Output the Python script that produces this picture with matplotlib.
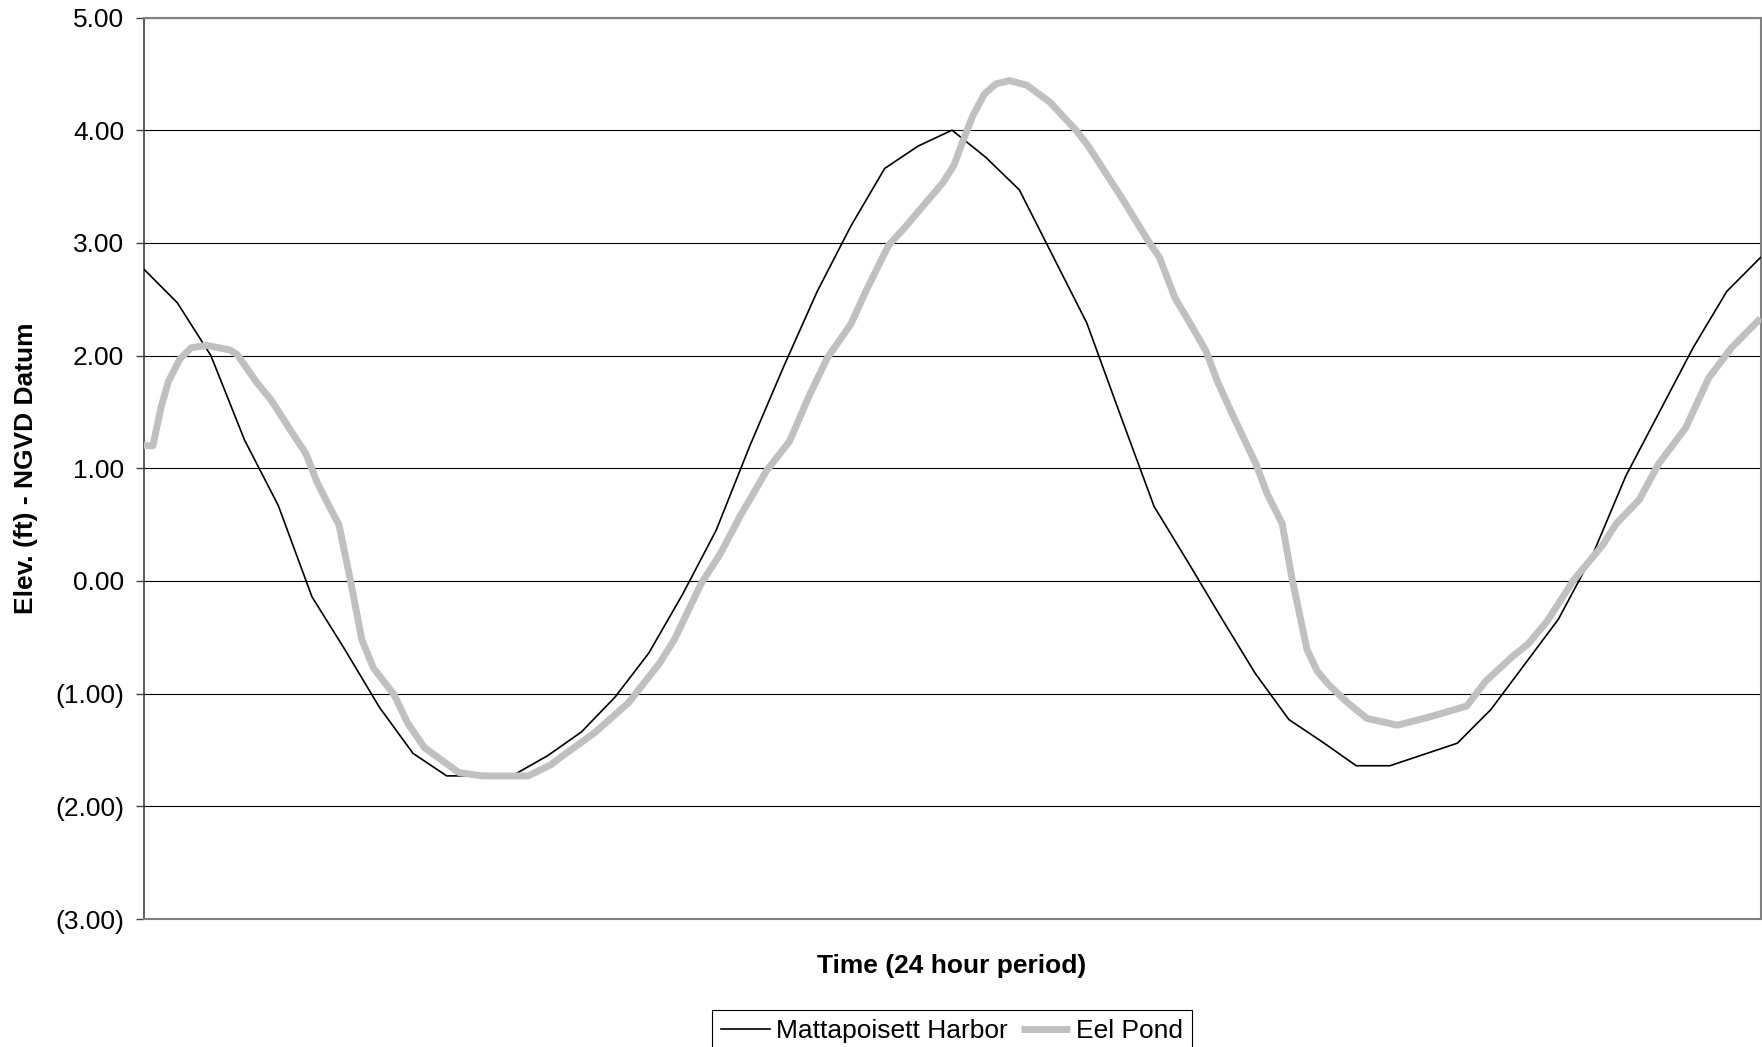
import matplotlib
matplotlib.use("Agg")
import matplotlib.pyplot as plt
from matplotlib.ticker import FuncFormatter, MultipleLocator

plt.rcParams['font.family'] = ['Liberation Sans', 'DejaVu Sans']
plt.rcParams['font.size'] = 19

# Mattapoisett Harbor, half-hourly (hours 0..24)
harbor_t = [0.0, 0.5, 1.0, 1.5, 2.0, 2.5, 3.0, 3.5, 4.0, 4.5, 5.0, 5.5, 6.0, 6.5, 7.0, 7.5,
            8.0, 8.5, 9.0, 9.5, 10.0, 10.5, 11.0, 11.5, 12.0, 12.5, 13.0, 13.5, 14.0, 14.5,
            15.0, 15.5, 16.0, 16.5, 17.0, 17.5, 18.0, 18.5, 19.0, 19.5, 20.0, 20.5, 21.0,
            21.5, 22.0, 22.5, 23.0, 23.5, 24.0]
harbor_elev = [2.77, 2.47, 2.00, 1.25, 0.67, -0.14, -0.62, -1.12, -1.53, -1.73, -1.73, -1.72,
               -1.55, -1.34, -1.03, -0.64, -0.12, 0.45, 1.20, 1.90, 2.57, 3.15, 3.66, 3.86,
               4.00, 3.76, 3.47, 2.88, 2.29, 1.47, 0.66, 0.17, -0.33, -0.82, -1.23, -1.43,
               -1.64, -1.64, -1.54, -1.44, -1.14, -0.74, -0.34, 0.22, 0.93, 1.50, 2.07, 2.57,
               2.87]

# Eel Pond
pond_t = [0.00, 0.14, 0.26, 0.37, 0.54, 0.71, 0.94, 1.28, 1.39, 1.67, 1.90, 2.19, 2.41, 2.58,
          2.75, 2.90, 3.07, 3.24, 3.41, 3.72, 3.92, 4.17, 4.68, 5.03, 5.71, 6.05, 6.18, 6.69,
          7.20, 7.66, 7.88, 8.28, 8.56, 8.79, 8.85, 9.25, 9.59, 9.87, 10.15, 10.50, 10.72,
          11.06, 11.29, 11.63, 11.86, 12.03, 12.14, 12.31, 12.48, 12.65, 12.85, 13.11, 13.45,
          13.84, 14.01, 14.53, 14.92, 15.08, 15.31, 15.54, 15.77, 15.94, 16.16, 16.51, 16.68,
          16.90, 17.05, 17.16, 17.27, 17.42, 17.59, 17.87, 18.16, 18.61, 19.07, 19.64, 19.92,
          20.32, 20.55, 20.83, 21.23, 21.66, 21.86, 22.20, 22.49, 22.89, 23.23, 23.57, 24.00]
pond_elev = [1.20, 1.20, 1.54, 1.77, 1.97, 2.07, 2.09, 2.05, 2.01, 1.77, 1.60, 1.33, 1.13, 0.87,
             0.67, 0.50, 0.01, -0.52, -0.77, -1.01, -1.26, -1.48, -1.70, -1.73, -1.73, -1.63,
             -1.57, -1.35, -1.08, -0.73, -0.52, -0.02, 0.24, 0.50, 0.57, 0.98, 1.24, 1.63, 1.98,
             2.28, 2.57, 2.98, 3.13, 3.37, 3.53, 3.69, 3.87, 4.13, 4.32, 4.41, 4.44, 4.40, 4.25,
             4.00, 3.87, 3.39, 3.01, 2.87, 2.51, 2.28, 2.04, 1.77, 1.48, 1.04, 0.77, 0.51, 0.01,
             -0.30, -0.61, -0.80, -0.92, -1.08, -1.22, -1.28, -1.21, -1.11, -0.89, -0.67, -0.56,
             -0.36, 0.01, 0.32, 0.51, 0.72, 1.04, 1.36, 1.80, 2.07, 2.33]

W, H = 1762, 1047
fig = plt.figure(figsize=(W / 100, H / 100), dpi=100)
ax = fig.add_axes([143.5 / W, 1 - 919 / H, 1617 / W, 901.5 / H])

ax.plot(harbor_t, harbor_elev, color='black', linewidth=1.2, label='Mattapoisett Harbor', zorder=3)
ax.plot(pond_t, pond_elev, color='#c0c0c0', linewidth=5, label='Eel Pond', zorder=4,
        solid_joinstyle='round', solid_capstyle='butt')

ax.set_xlim(0, 24)
ax.set_ylim(-3, 5)
ax.yaxis.set_major_locator(MultipleLocator(1))
ax.yaxis.set_major_formatter(FuncFormatter(lambda v, p: f"{v:.2f}" if v >= 0 else f"({-v:.2f})"))
ax.set_xticks([])
ax.tick_params(axis='y', direction='out', length=6, width=1, color='#404040', pad=8, labelsize=19)

ax.grid(axis='y', color='black', linewidth=0.8)
ax.set_axisbelow(True)
for side in ['top', 'right', 'bottom']:
    ax.spines[side].set_color('#808080')
    ax.spines[side].set_linewidth(1.5)
ax.spines['left'].set_color('#404040')
ax.spines['left'].set_linewidth(1.2)

fig.text(25.8 / W, 1 - 468 / H, 'Elev. (ft) - NGVD Datum', rotation=90, ha='center', va='center',
         fontweight='bold', fontsize=19)
fig.text(952 / W, 1 - 966 / H, 'Time (24 hour period)', ha='center', va='center',
         fontweight='bold', fontsize=19)

leg = fig.legend(loc='upper center', bbox_to_anchor=(952 / W, 1 - 1010 / H), ncol=2,
                 frameon=True, fancybox=False, edgecolor='black', framealpha=1,
                 borderpad=0.35, handlelength=1.85, handletextpad=0.22, columnspacing=0.5,
                 borderaxespad=0, fontsize=19)
leg.get_frame().set_linewidth(0.8)

fig.savefig('out.png', dpi=100, facecolor='white')
